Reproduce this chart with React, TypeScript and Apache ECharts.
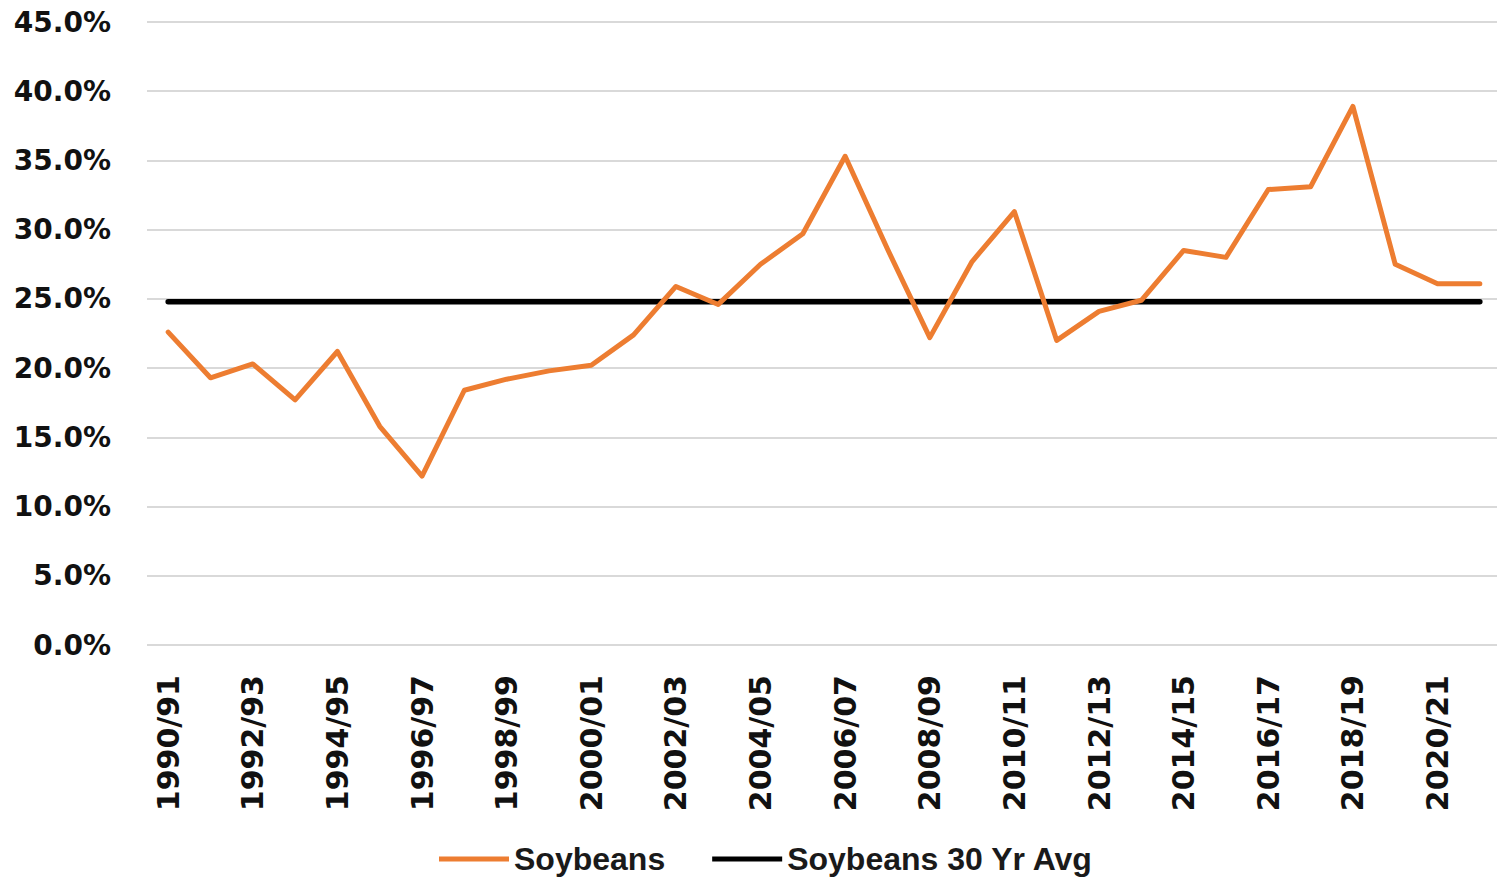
import React, { useEffect, useRef } from "react";
import * as echarts from "echarts";

const categories = [
  "1990/91", "1991/92", "1992/93", "1993/94", "1994/95", "1995/96", "1996/97", "1997/98",
  "1998/99", "1999/00", "2000/01", "2001/02", "2002/03", "2003/04", "2004/05", "2005/06",
  "2006/07", "2007/08", "2008/09", "2009/10", "2010/11", "2011/12", "2012/13", "2013/14",
  "2014/15", "2015/16", "2016/17", "2017/18", "2018/19", "2019/20", "2020/21", "2021/22",
];

const soybeans = [
  22.6, 19.3, 20.3, 17.7, 21.2, 15.8, 12.2, 18.4,
  19.2, 19.8, 20.2, 22.4, 25.9, 24.6, 27.5, 29.7,
  35.3, 28.6, 22.2, 27.7, 31.3, 22.0, 24.1, 24.9,
  28.5, 28.0, 32.9, 33.1, 38.9, 27.5, 26.1, 26.1,
];

const avgValue = 24.8;
const soybeansAvg = categories.map(() => avgValue);

const yMin = 0;
const yMax = 45;
const yInterval = 5;

export default function App() {
  const ref = useRef<HTMLDivElement>(null);

  useEffect(() => {
    if (!ref.current) return;
    const chart = echarts.init(ref.current, undefined, { renderer: "svg" });
    chart.setOption({
      animation: false,
      backgroundColor: "#ffffff",
      grid: { left: 147, top: 22, width: 1354, height: 623, containLabel: false },
      legend: {
        left: 434,
        top: 838,
        icon: "rect",
        itemWidth: 70,
        itemHeight: 5,
        itemGap: 47,
        textStyle: {
          fontFamily: "Liberation Sans",
          fontWeight: "bold",
          fontSize: 32,
          color: "#1a1a1a",
        },
        data: ["Soybeans", "Soybeans 30 Yr Avg"],
      },
      xAxis: {
        type: "category",
        data: categories,
        boundaryGap: true,
        axisLine: { show: false },
        axisTick: { show: false },
        axisLabel: {
          interval: 1,
          rotate: 90,
          margin: 30,
          fontFamily: "DejaVu Sans",
          fontWeight: "bold",
          fontSize: 30,
          color: "#111",
        },
      },
      yAxis: {
        type: "value",
        min: yMin,
        max: yMax,
        interval: yInterval,
        axisLine: { show: false },
        axisTick: { show: false },
        splitLine: { lineStyle: { color: "#d9d9d9", width: 2 } },
        axisLabel: {
          margin: 36,
          fontFamily: "DejaVu Sans",
          fontWeight: "bold",
          fontSize: 28,
          color: "#111",
          formatter: (v: number) => v.toFixed(1) + "%",
        },
      },
      series: [
        {
          name: "Soybeans",
          type: "line",
          data: soybeans,
          symbol: "none",
          color: "#ED7D31",
          lineStyle: { color: "#ED7D31", width: 5, cap: "round", join: "round" },
          z: 3,
        },
        {
          name: "Soybeans 30 Yr Avg",
          type: "line",
          data: soybeansAvg,
          symbol: "none",
          color: "#000000",
          lineStyle: { color: "#000000", width: 5.5, cap: "round" },
          z: 2,
        },
      ],
    });
    return () => chart.dispose();
  }, []);

  return (
    <div style={{ position: "fixed", left: 0, top: 0, width: 1497, height: 877, overflow: "hidden" }}>
      <div ref={ref} style={{ position: "absolute", left: 0, top: 0, width: 1510, height: 877 }} />
    </div>
  );
}
